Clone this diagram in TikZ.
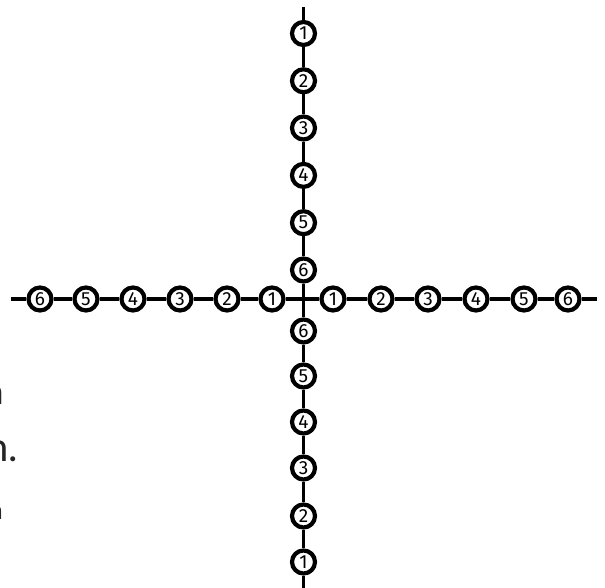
\documentclass[tikz,border=0pt]{standalone}
\usepackage{fontspec}
\setmainfont{Fira Sans}
\newfontfamily\notefont{Lato}
\usetikzlibrary{positioning}

\begin{document}
\begin{tikzpicture}[
    x=1pt, y=1pt,
    tick/.style={draw, circle, line width=4.2pt, minimum size=23pt, inner sep=0pt, fill=white, font=\fontsize{19}{19}\selectfont},
    axis/.style={draw, line width=3.2pt},
    note/.style={anchor=base east, text=black!85, inner sep=0pt, font=\notefont}
]
\useasboundingbox (0,0) rectangle (605,588);

% Ends of the axes
\coordinate (centre) at (303.5, 289);
\coordinate (top) at (303.5, 581);
\coordinate (bottom) at (303.5, -2);
\coordinate (leftend) at (11, 289);
\coordinate (rightend) at (597, 289);

% Upper ticks
\node[tick] (u1) at (303.5, 554.5) {1};
\node[tick] (u2) at (303.5, 507.2) {2};
\node[tick] (u3) at (303.5, 460) {3};
\node[tick] (u4) at (303.5, 412.6) {4};
\node[tick] (u5) at (303.5, 365.3) {5};
\node[tick] (u6) at (303.5, 318) {6};

% Lower ticks
\node[tick] (d6) at (303.5, 257) {6};
\node[tick] (d5) at (303.5, 212) {5};
\node[tick] (d4) at (303.5, 166) {4};
\node[tick] (d3) at (303.5, 120) {3};
\node[tick] (d2) at (303.5, 72) {2};
\node[tick] (d1) at (303.5, 26) {1};

% Left ticks
\node[tick] (l6) at (40, 289) {6};
\node[tick] (l5) at (86, 289) {5};
\node[tick] (l4) at (133, 289) {4};
\node[tick] (l3) at (180, 289) {3};
\node[tick] (l2) at (227, 289) {2};
\node[tick] (l1) at (272, 289) {1};

% Right ticks
\node[tick] (r1) at (333, 289) {1};
\node[tick] (r2) at (381, 289) {2};
\node[tick] (r3) at (428, 289) {3};
\node[tick] (r4) at (476, 289) {4};
\node[tick] (r5) at (524, 289) {5};
\node[tick] (r6) at (568, 289) {6};

% Axes
\draw[axis] (top) -- (u1) -- (u2) -- (u3) -- (u4) -- (u5) -- (u6) -- (centre);
\draw[axis] (centre) -- (d6) -- (d5) -- (d4) -- (d3) -- (d2) -- (d1) -- (bottom);
\draw[axis] (leftend) -- (l6) -- (l5) -- (l4) -- (l3) -- (l2) -- (l1) -- (centre);
\draw[axis] (centre) -- (r1) -- (r2) -- (r3) -- (r4) -- (r5) -- (r6) -- (rightend);

% Cut-off text at the left edge
\node[note, font=\notefont\fontsize{36}{36}\selectfont] (n1) at (4, 183) {n};
\node[note, font=\notefont\fontsize{40}{40}\selectfont] (n2) at (18, 126) {n.};
\node[note, font=\notefont\fontsize{26}{26}\selectfont] (n3) at (3, 68) {n};

\end{tikzpicture}
\end{document}
